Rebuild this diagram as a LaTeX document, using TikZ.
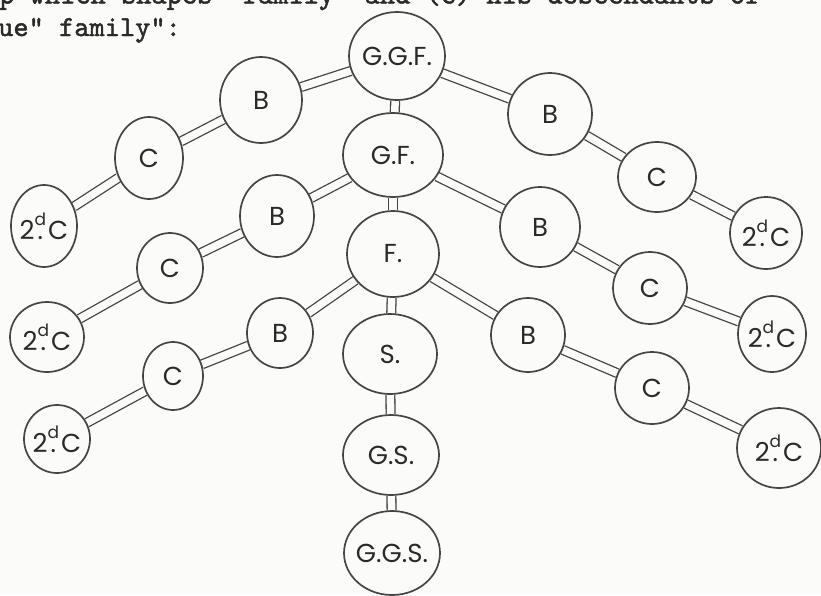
\documentclass[tikz,border=0pt]{standalone}
\usepackage{fontspec}
\usetikzlibrary{shapes.geometric}
\newfontfamily\handfont{Poppins}
\newfontfamily\typefont[FakeBold=1.6]{lmmono10-regular.otf}
\definecolor{ink}{HTML}{454545}
\definecolor{paper}{HTML}{FBFBF9}
\definecolor{typeink}{HTML}{2A2A2A}
\newcommand{\sndC}{2\ooalign{\raisebox{0.55em}{\fontsize{17}{17}\selectfont d}\cr\hfil.\hfil}\kern2pt C}
\newcommand{\drawperson}[6]{\node[person, minimum width=#4pt, minimum height=#5pt] (#1) at (#2,#3) {\makebox[0pt]{#6}};}
\pgfdeclarelayer{paperlayer}
\pgfdeclarelayer{edgelayer}
\pgfsetlayers{paperlayer,edgelayer,main}
\begin{document}
\begin{tikzpicture}[x=1pt,y=-1pt,
  person/.style={ellipse, draw=ink, line width=1.7pt, fill=paper, inner sep=0pt,
    font=\handfont\fontsize{26}{26}\selectfont, text=typeink},
  tie/.style={draw=ink, line width=1.3pt, double=paper, double distance=7.5pt},
  typed/.style={anchor=base west, inner sep=0pt, text=typeink,
    font=\typefont\fontsize{29}{29}\selectfont}]
\begin{pgfonlayer}{paperlayer}
\fill[paper] (0,0) rectangle (821,595);
\end{pgfonlayer}
\useasboundingbox (0,0) rectangle (821,595);
\begin{scope}
\clip (0,0) rectangle (821,595);
\node[typed] (line1) at (-1,3.5) {p which shapes "family" and (c) his descendants of};
\node[typed] (line2) at (-2,36) {ue" family":};
\end{scope}
% central line
\drawperson{ggf}{397}{56}{96}{88}{G.G.F.}
\drawperson{gf}{393}{155}{100}{84}{G.F.}
\drawperson{f}{393}{254}{92}{86}{F.}
\drawperson{s}{390}{354}{94}{80}{S.}
\drawperson{gs}{391}{455}{96}{80}{G.S.}
\drawperson{ggs}{392}{553}{96}{84}{G.G.S.}
% left branches
\drawperson{lb1}{261}{100}{82}{86}{B}
\drawperson{lc1}{149}{158}{68}{82}{C}
\drawperson{ld1}{44}{226}{66}{82}{\sndC}
\drawperson{lb2}{277}{216}{74}{82}{B}
\drawperson{lc2}{170}{268}{66}{70}{C}
\drawperson{ld2}{47}{337}{74}{70}{\sndC}
\drawperson{lb3}{280}{333}{66}{70}{B}
\drawperson{lc3}{173}{376}{60}{68}{C}
\drawperson{ld3}{57}{439}{66}{68}{\sndC}
% right branches
\drawperson{rb1}{550}{114}{84}{82}{B}
\drawperson{rc1}{657}{177}{78}{70}{C}
\drawperson{rd1}{766}{233}{72}{72}{\sndC}
\drawperson{rb2}{540}{227}{80}{80}{B}
\drawperson{rc2}{650}{288}{74}{72}{C}
\drawperson{rd2}{772}{334}{68}{76}{\sndC}
\drawperson{rb3}{528}{335}{74}{74}{B}
\drawperson{rc3}{652}{388}{74}{72}{C}
\drawperson{rd3}{779}{448}{84}{80}{\sndC}
\begin{pgfonlayer}{edgelayer}
\draw[tie] (ggf) -- (gf);
\draw[tie] (gf) -- (f);
\draw[tie] (f) -- (s);
\draw[tie] (s) -- (gs);
\draw[tie] (gs) -- (ggs);
\draw[tie] (ggf) -- (lb1);
\draw[tie] (lb1) -- (lc1);
\draw[tie] (lc1) -- (ld1);
\draw[tie] (gf) -- (lb2);
\draw[tie] (lb2) -- (lc2);
\draw[tie] (lc2) -- (ld2);
\draw[tie] (f) -- (lb3);
\draw[tie] (lb3) -- (lc3);
\draw[tie] (lc3) -- (ld3);
\draw[tie] (ggf) -- (rb1);
\draw[tie] (rb1) -- (rc1);
\draw[tie] (rc1) -- (rd1);
\draw[tie] (gf) -- (rb2);
\draw[tie] (rb2) -- (rc2);
\draw[tie] (rc2) -- (rd2);
\draw[tie] (f) -- (rb3);
\draw[tie] (rb3) -- (rc3);
\draw[tie] (rc3) -- (rd3);
\end{pgfonlayer}
\end{tikzpicture}
\end{document}
